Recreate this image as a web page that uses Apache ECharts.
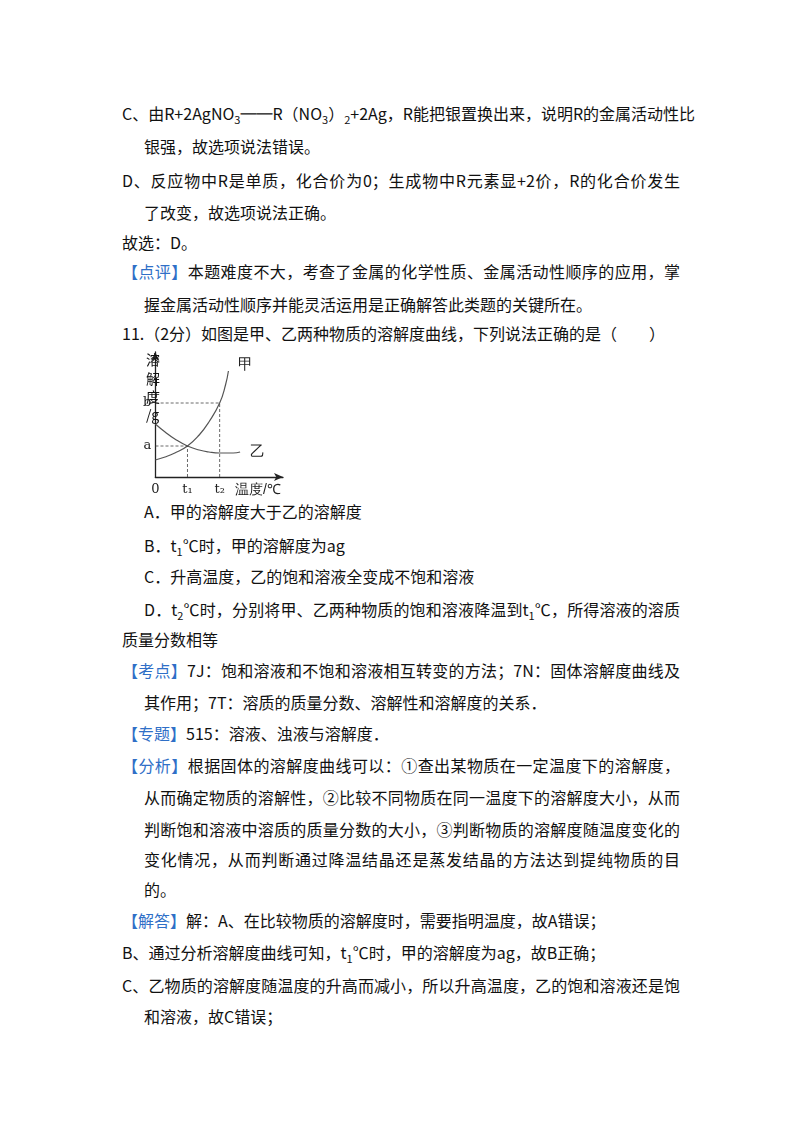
<!DOCTYPE html>
<html><head><meta charset="utf-8">
<script src="https://cdn.jsdelivr.net/npm/echarts@6/dist/echarts.min.js"></script>
<style>
body{margin:0;width:800px;height:1132px;background:#fff;position:relative;font-family:"Noto Sans CJK SC","Noto Sans",sans-serif;color:#111;}
.l{position:absolute;font-size:16px;line-height:20px;white-space:nowrap;}
.j{width:558px;text-align:justify;text-align-last:justify;}
.j2{width:536px;text-align:justify;text-align-last:justify;}
.b{color:#2f6fc7;}
#chart{position:absolute;left:140px;top:345px;width:160px;height:155px;z-index:1;}
.v{position:absolute;left:146px;font-size:14px;line-height:14px;z-index:2;background:transparent;}
</style></head><body>
<div class="l j" style="left:122px;top:103px">C、由R+2AgNO<sub style="font-size:11px">3</sub>══R（NO<sub style="font-size:11px">3</sub>）<sub style="font-size:11px">2</sub>+2Ag，R能把银置换出来，说明R的金属活动性比</div>
<div class="l" style="left:144px;top:136px">银强，故选项说法错误。</div>
<div class="l j" style="left:122px;top:170px">D、反应物中R是单质，化合价为0；生成物中R元素显+2价，R的化合价发生</div>
<div class="l" style="left:144px;top:202px">了改变，故选项说法正确。</div>
<div class="l" style="left:122px;top:232px">故选：D。</div>
<div class="l j" style="left:122px;top:261px"><span class="b">【点评】</span>本题难度不大，考查了金属的化学性质、金属活动性顺序的应用，掌</div>
<div class="l" style="left:144px;top:294px">握金属活动性顺序并能灵活运用是正确解答此类题的关键所在。</div>
<div class="l" style="left:122px;top:323px">11.（2分）如图是甲、乙两种物质的溶解度曲线，下列说法正确的是（　　）</div>
<div id="chart"></div>
<div class="v" style="top:352px">溶</div>
<div class="v" style="top:371px">解</div>
<div class="v" style="top:389px">度</div>
<div class="v" style="top:407px">/g</div>
<div class="l" style="left:144px;top:501px">A．甲的溶解度大于乙的溶解度</div>
<div class="l" style="left:144px;top:535px">B．t<sub style="font-size:11px">1</sub>℃时，甲的溶解度为ag</div>
<div class="l" style="left:144px;top:566px">C．升高温度，乙的饱和溶液全变成不饱和溶液</div>
<div class="l j2" style="left:144px;top:599px">D．t<sub style="font-size:11px">2</sub>℃时，分别将甲、乙两种物质的饱和溶液降温到t<sub style="font-size:11px">1</sub>℃，所得溶液的溶质</div>
<div class="l" style="left:122px;top:629px">质量分数相等</div>
<div class="l j" style="left:122px;top:660px"><span class="b">【考点】</span>7J：饱和溶液和不饱和溶液相互转变的方法；7N：固体溶解度曲线及</div>
<div class="l" style="left:144px;top:692px">其作用；7T：溶质的质量分数、溶解性和溶解度的关系．</div>
<div class="l" style="left:122px;top:723px"><span class="b">【专题】</span>515：溶液、浊液与溶解度．</div>
<div class="l j" style="left:122px;top:755px"><span class="b">【分析】</span>根据固体的溶解度曲线可以：①查出某物质在一定温度下的溶解度，</div>
<div class="l j2" style="left:144px;top:787px">从而确定物质的溶解性，②比较不同物质在同一温度下的溶解度大小，从而</div>
<div class="l j2" style="left:144px;top:819px">判断饱和溶液中溶质的质量分数的大小，③判断物质的溶解度随温度变化的</div>
<div class="l j2" style="left:144px;top:849px">变化情况，从而判断通过降温结晶还是蒸发结晶的方法达到提纯物质的目</div>
<div class="l" style="left:144px;top:879px">的。</div>
<div class="l" style="left:122px;top:910px"><span class="b">【解答】</span>解：A、在比较物质的溶解度时，需要指明温度，故A错误；</div>
<div class="l" style="left:122px;top:942px">B、通过分析溶解度曲线可知，t<sub style="font-size:11px">1</sub>℃时，甲的溶解度为ag，故B正确；</div>
<div class="l j" style="left:122px;top:975px">C、乙物质的溶解度随温度的升高而减小，所以升高温度，乙的饱和溶液还是饱</div>
<div class="l" style="left:144px;top:1006px">和溶液，故C错误；</div>
<script>
const jiaX=[0,10,20,33,45,55,66,72,75];
const jiaY=[17,20,24,31,42,55,74,92,106];
const yiX=[0,10,20,33,45,55,66,80,87];
const yiY=[53,45,38,31,27,25,24,24,25];
const xTicks=[0,33,66];
const xTickLabels=['0','t₁','t₂'];
const yTicks=[31,74];
const yTickLabels=['a','b'];
const pts=(xs,ys)=>xs.map((x,i)=>[x,ys[i]]);
const c=echarts.init(document.getElementById('chart'));
const ln={color:'#555',width:1.2};
const dash={color:'#444',width:0.8,type:[3,2]};
c.setOption({
 animation:false,
 grid:{left:12,top:7,width:131,height:125},
 xAxis:{type:'value',min:0,max:131,splitLine:{show:false},
  axisLine:{lineStyle:{color:'#222',width:1.3},symbol:['none','arrow'],symbolSize:[6,9]},
  axisTick:{show:false},
  axisLabel:{customValues:xTicks,formatter:v=>xTickLabels[xTicks.indexOf(v)],color:'#222',fontSize:13,margin:6,fontFamily:'DejaVu Serif'},
  name:'温度/℃',nameLocation:'end',nameGap:-48,nameTextStyle:{verticalAlign:'top',padding:[6,0,0,0],fontSize:14,color:'#222'}},
 yAxis:{type:'value',min:0,max:125,splitLine:{show:false},
  axisLine:{lineStyle:{color:'#222',width:1.3},symbol:['none','arrow'],symbolSize:[6,9]},
  axisTick:{show:false},
  axisLabel:{customValues:yTicks,formatter:v=>yTickLabels[yTicks.indexOf(v)],color:'#222',fontSize:13,margin:4,fontFamily:'DejaVu Serif'}},
 series:[
  {type:'line',smooth:true,symbol:'none',data:pts(jiaX,jiaY),lineStyle:ln,
   endLabel:{show:true,formatter:'甲',fontSize:15,color:'#222',offset:[2,-6]}},
  {type:'line',smooth:true,symbol:'none',data:pts(yiX,yiY),lineStyle:ln,
   endLabel:{show:true,formatter:'乙',fontSize:15,color:'#222',offset:[2,0]}},
  {type:'line',symbol:'none',data:[[xTicks[1],0],[xTicks[1],yTicks[0]],[0,yTicks[0]]],lineStyle:dash},
  {type:'line',symbol:'none',data:[[xTicks[2],0],[xTicks[2],yTicks[1]],[0,yTicks[1]]],lineStyle:dash}
 ]
});
</script>
</body></html>
